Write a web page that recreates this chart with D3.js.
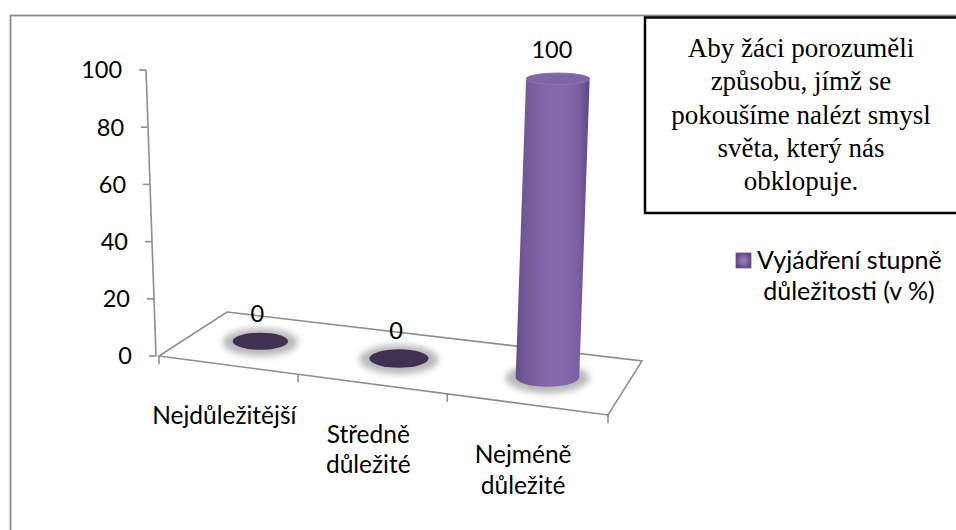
<!DOCTYPE html>
<html>
<head>
<meta charset="utf-8">
<script src="https://cdn.jsdelivr.net/npm/d3@7"></script>
<style>
  html, body { margin: 0; padding: 0; background: #ffffff; }
  svg { display: block; }
</style>
</head>
<body>
<svg id="chart" width="956" height="530"></svg>
<script>
// ---------------- data ----------------
const categories = ["Nejdůležitější", "Středně důležité", "Nejméně důležité"];
const values = [0, 0, 100];
const seriesName = "Vyjádření stupně důležitosti (v %)";
const legendLines = ["Vyjádření stupně", "důležitosti (v %)"];
const yTicks = [0, 20, 40, 60, 80, 100];
const noteLines = [
  "Aby žáci porozuměli",
  "způsobu, jímž se",
  "pokoušíme nalézt smysl",
  "světa, který nás",
  "obklopuje."
];

// ---------------- layout ----------------
const W = 956, H = 530;
const svg = d3.select("#chart");
const sans = "Lato, 'Open Sans', sans-serif";
const serif = "'Liberation Serif', 'DejaVu Serif', serif";
const gridCol = "#8e8e8e";

// floor quad (front-left, front-right, back-right, back-left)
const FL = [159, 356], FR = [608, 415], BR = [642, 361], BL = [227, 312];

// homography unit square -> quad
function makeHomography(p0, p1, p2, p3) {
  const [x0, y0] = p0, [x1, y1] = p1, [x2, y2] = p2, [x3, y3] = p3;
  const dx1 = x1 - x2, dx2 = x3 - x2, dx3 = x0 - x1 + x2 - x3;
  const dy1 = y1 - y2, dy2 = y3 - y2, dy3 = y0 - y1 + y2 - y3;
  const den = dx1 * dy2 - dx2 * dy1;
  const g = (dx3 * dy2 - dx2 * dy3) / den;
  const h = (dx1 * dy3 - dx3 * dy1) / den;
  const a = x1 - x0 + g * x1, b = x3 - x0 + h * x3, c = x0;
  const d = y1 - y0 + g * y1, e = y3 - y0 + h * y3, f = y0;
  return (u, v) => {
    const w = g * u + h * v + 1;
    return [(a * u + b * v + c) / w, (d * u + e * v + f) / w, w];
  };
}
const proj = makeHomography(FL, FR, BR, BL);

// category scale in floor units
const xBand = d3.scaleBand().domain(categories).range([0, 1]).paddingInner(0).paddingOuter(0);
// value scale (axis at the front-left corner)
const axisBase = [FL[0] - 3, FL[1]];
const yScale = d3.scaleLinear().domain([0, 100]).range([axisBase[1], 70]);
const slant = 10 / 287; // lean of verticals

const defs = svg.append("defs");

// outer chart border
svg.append("rect").attr("x", 10.5).attr("y", 15.5).attr("width", 960).attr("height", 540)
  .attr("fill", "#fff").attr("stroke", "#8a8a8a").attr("stroke-width", 1.8);

// blur filter
const blur = defs.append("filter").attr("id", "blur").attr("x", "-50%").attr("y", "-100%")
  .attr("width", "200%").attr("height", "300%");
blur.append("feGaussianBlur").attr("stdDeviation", 3.4);

// cylinder gradient
const cg = defs.append("linearGradient").attr("id", "cyl").attr("x1", "0").attr("x2", "1").attr("y1", "0").attr("y2", "0");
[[0, "#644c8a"], [0.12, "#725899"], [0.45, "#8466ab"], [0.62, "#876aae"], [0.85, "#7a5fa2"], [1, "#5f4884"]]
  .forEach(([o, c]) => cg.append("stop").attr("offset", o).attr("stop-color", c));

const lg = defs.append("radialGradient").attr("id", "leg");
lg.append("stop").attr("offset", 0).attr("stop-color", "#9b80c0");
lg.append("stop").attr("offset", 0.6).attr("stop-color", "#8064a2");
lg.append("stop").attr("offset", 1).attr("stop-color", "#5f4884");

// ---------------- floor ----------------
const floorPts = [proj(0, 0), proj(1, 0), proj(1, 1), proj(0, 1)].map(p => [p[0], p[1]]);
svg.append("path")
  .attr("d", d3.line()(floorPts) + "Z")
  .attr("fill", "none").attr("stroke", gridCol).attr("stroke-width", 1.6);

// category ticks on the front edge
const tickUs = [0].concat(categories.map(c => xBand(c) + xBand.bandwidth()));
tickUs.forEach(u => {
  const p = proj(u, 0);
  svg.append("line").attr("x1", p[0]).attr("x2", p[0]).attr("y1", p[1]).attr("y2", p[1] + 8)
    .attr("stroke", gridCol).attr("stroke-width", 1.6);
});

// ---------------- value axis ----------------
const axisX = v => axisBase[0] - (axisBase[1] - yScale(v)) * slant;
svg.append("line")
  .attr("x1", axisX(0)).attr("y1", yScale(0)).attr("x2", axisX(100)).attr("y2", yScale(100))
  .attr("stroke", gridCol).attr("stroke-width", 1.6);
yTicks.forEach(t => {
  const x = axisX(t), y = yScale(t);
  svg.append("line").attr("x1", x - 7).attr("x2", x).attr("y1", y).attr("y2", y)
    .attr("stroke", gridCol).attr("stroke-width", 1.6);
  svg.append("text").attr("x", x - 24).attr("y", y).attr("dy", "0.36em")
    .attr("text-anchor", "end").attr("font-family", sans).attr("font-size", 23.5)
    .attr("fill", "#000").text(t);
});

// ---------------- cylinders ----------------
const w0 = proj(0, 0)[2];
categories.forEach((c, i) => {
  const u = xBand(c) + xBand.bandwidth() / 2;
  const base = proj(u, 0.5);
  const persp = w0 / base[2];
  const rU = xBand.bandwidth() * 0.205;
  const pl = proj(u - rU, 0.5), pr = proj(u + rU, 0.5);
  const rx = Math.hypot(pr[0] - pl[0], pr[1] - pl[1]) / 2;
  const ry = rx * 0.31;
  const hPx = (yScale(0) - yScale(values[i])) * persp;
  const top = [base[0] + hPx * slant, base[1] - hPx];
  const g = svg.append("g");
  g.append("ellipse").attr("cx", base[0]).attr("cy", base[1] + 1).attr("rx", rx + 10).attr("ry", ry + 5.5)
    .attr("fill", "#8a8a8a").attr("opacity", 0.6).attr("filter", "url(#blur)");
  if (values[i] > 0) {
    const ryTop = rx * 0.18;
    const body = `M${base[0] - rx},${base[1]} L${top[0] - rx},${top[1]} L${top[0] + rx},${top[1]} L${base[0] + rx},${base[1]} A${rx},${ry} 0 0 1 ${base[0] - rx},${base[1]} Z`;
    g.append("path").attr("d", body).attr("fill", "url(#cyl)");
    g.append("ellipse").attr("cx", top[0]).attr("cy", top[1]).attr("rx", rx).attr("ry", ryTop)
      .attr("fill", "#7f65a6").attr("stroke", "#8d73b3").attr("stroke-width", 1);
    svg.append("text").attr("x", top[0] - 6).attr("y", top[1] - 21)
      .attr("text-anchor", "middle").attr("font-family", sans).attr("font-size", 23.5).text(values[i]);
  } else {
    g.append("ellipse").attr("cx", base[0]).attr("cy", base[1]).attr("rx", rx).attr("ry", ry)
      .attr("fill", "#403152");
    svg.append("text").attr("x", top[0] - 3).attr("y", top[1] - 19)
      .attr("text-anchor", "middle").attr("font-family", sans).attr("font-size", 23.5).text(values[i]);
  }
});

// ---------------- category labels ----------------
categories.forEach(c => {
  const u = xBand(c) + xBand.bandwidth() / 2;
  const p = proj(u, 0);
  const t = svg.append("text").attr("text-anchor", "middle").attr("font-family", sans)
    .attr("font-size", 24.5).attr("fill", "#000");
  c.split(" ").forEach((word, k) => {
    t.append("tspan").attr("x", p[0] - 3).attr("y", p[1] + 59 + k * 30.5).text(word);
  });
});

// ---------------- note box ----------------
svg.append("rect").attr("x", 645).attr("y", 17.5).attr("width", 320).attr("height", 195.5)
  .attr("fill", "#fff").attr("stroke", "#000").attr("stroke-width", 2.5);
noteLines.forEach((line, k) => {
  svg.append("text").attr("x", 801).attr("y", 57 + k * 33.3)
    .attr("text-anchor", "middle").attr("font-family", serif).attr("font-size", 27)
    .attr("fill", "#000").text(line);
});

// ---------------- legend ----------------
const leg = svg.append("g").attr("aria-label", seriesName);
leg.append("rect").attr("x", 736).attr("y", 253).attr("width", 15).attr("height", 15)
  .attr("fill", "url(#leg)").attr("stroke", "#6e5595").attr("stroke-width", 0.8);
leg.append("text").attr("x", 757).attr("y", 260).attr("dy", "0.36em")
  .attr("font-family", sans).attr("font-size", 25).text(legendLines[0]);
leg.append("text").attr("x", 849).attr("y", 291).attr("dy", "0.36em").attr("text-anchor", "middle")
  .attr("font-family", sans).attr("font-size", 25).text(legendLines[1]);
</script>
</body>
</html>
